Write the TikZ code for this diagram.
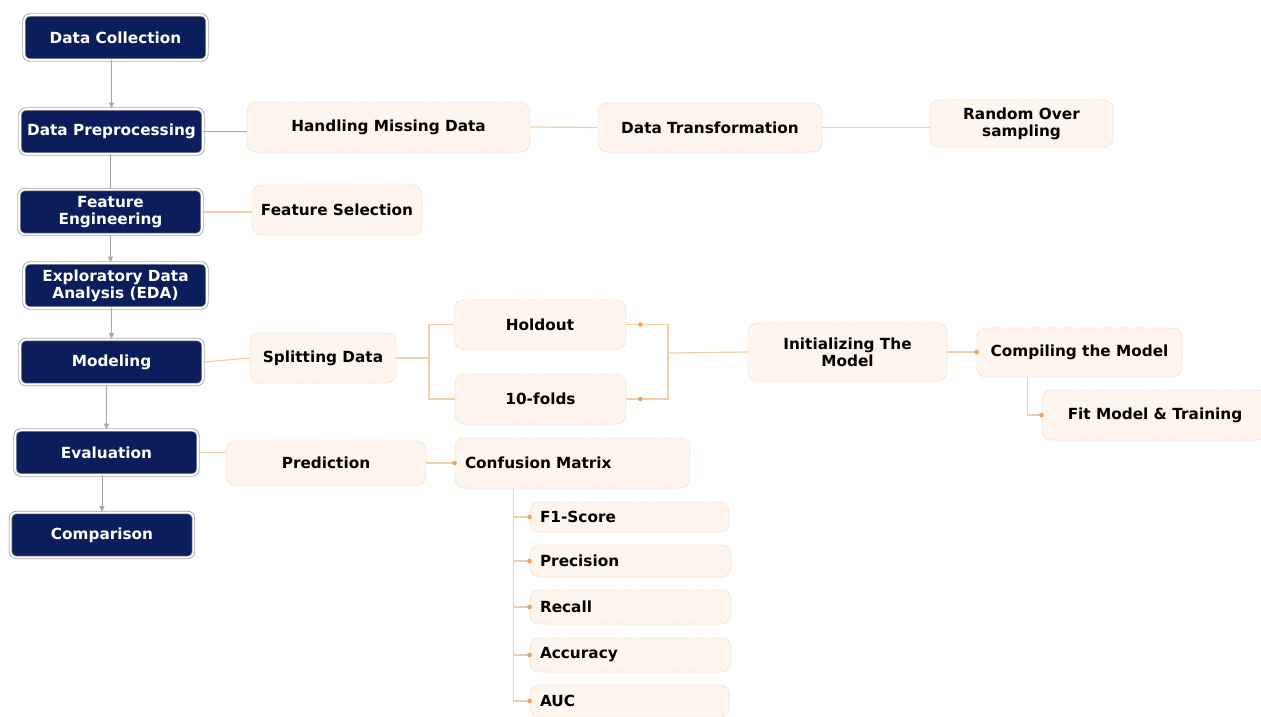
\documentclass[tikz,border=0pt]{standalone}
\usepackage{fontspec}
\setmainfont{DejaVu Sans}
\usetikzlibrary{arrows.meta,calc}
\definecolor{navy}{HTML}{0B1E5B}
\definecolor{boxfill}{HTML}{FEF6EE}
\definecolor{boxline}{HTML}{F2D2B0}
\definecolor{linkc}{HTML}{F5CDA6}
\definecolor{dotc}{HTML}{F0A05A}
\definecolor{grayline}{HTML}{A8A8A8}
\begin{document}
\begin{tikzpicture}[x=1pt,y=-1pt,
  dbox/.style={fill=navy, draw=grayline, double=white, double distance=1.6pt, line width=0.9pt,
    rounded corners=6pt, minimum width=183pt, minimum height=45pt, inner sep=1pt,
    text=white, align=center, font=\fontsize{15.3}{17}\selectfont\bfseries},
  lbox/.style={fill=boxfill, draw=boxline, densely dotted, line width=0.8pt, rounded corners=9pt,
    inner sep=2pt, align=center, text=black, font=\fontsize{15.3}{17}\selectfont\bfseries},
  lboxl/.style={lbox, inner xsep=10pt, align=left},
  glink/.style={draw=grayline, line width=1pt},
  garrow/.style={glink, -{Triangle[length=6pt,width=5pt]}},
  olink/.style={draw=linkc, line width=1.2pt}
]
\useasboundingbox[fill=white] (0,0) rectangle (1261,716);

% main column
\node[dbox] (dc)  at (115.5,37.5) {Data Collection};
\node[dbox] (dp)  at (111.5,131.5) {Data Preprocessing};
\node[dbox] (fe)  at (110.5,212) {Feature\\Engineering};
\node[dbox] (eda) at (115.5,285.5) {Exploratory Data\\Analysis (EDA)};
\node[dbox] (mod) at (111.5,362) {Modeling};
\node[dbox] (ev)  at (106.5,452.5) {Evaluation};
\node[dbox] (cmp) at (102,535) {Comparison};

% light boxes
\node[lbox, minimum width=283pt, minimum height=50pt] (hmd) at (388.5,127) {Handling Missing Data};
\node[lbox, minimum width=224pt, minimum height=49pt] (dt) at (710,127.5) {Data Transformation};
\node[lbox, minimum width=183pt, minimum height=47pt] (ros) at (1021.5,123.5) {Random Over\\sampling};
\node[lbox, minimum width=170pt, minimum height=50pt] (fs) at (337,210) {Feature Selection};
\node[lbox, minimum width=146pt, minimum height=50pt] (split) at (323,358) {Splitting Data};
\node[lbox, minimum width=172pt, minimum height=49pt] (hold) at (540,324.5) {Holdout};
\node[lbox, minimum width=171pt, minimum height=50pt] (tenf) at (540.5,399) {10-folds};
\node[lbox, minimum width=199pt, minimum height=58pt] (init) at (847.5,352) {Initializing The\\Model};
\node[lbox, minimum width=205pt, minimum height=49pt] (comp) at (1079.5,352.5) {Compiling the Model};
\node[lbox, minimum width=226pt, minimum height=50pt] (fit) at (1155,415) {Fit Model \& Training};
\node[lbox, minimum width=200pt, minimum height=44pt] (pred) at (326,463) {Prediction};
\node[lboxl, text width=215pt, minimum height=50pt] (conf) at (572.5,463) {Confusion Matrix};
\node[lboxl, text width=179pt, minimum height=30pt] (f1) at (629.5,517) {F1-Score};
\node[lboxl, text width=181pt, minimum height=32pt] (prec) at (630.5,561) {Precision};
\node[lboxl, text width=181pt, minimum height=34pt] (rec) at (630.5,607) {Recall};
\node[lboxl, text width=181pt, minimum height=34pt] (acc) at (630.5,655) {Accuracy};
\node[lboxl, text width=179pt, minimum height=32pt] (auc) at (629.5,701) {AUC};

% main column connectors
\draw[garrow] (dc.south -| dp.north) -- (dp.north);
\draw[glink] (dp.south -| fe.north) -- (fe.north);
\draw[garrow] (fe.south) -- (fe.south |- eda.north);
\draw[garrow] (eda.south -| mod.north) -- (mod.north);
\draw[garrow] (mod.south -| ev.north) -- (ev.north);
\draw[garrow] (ev.south -| cmp.north) -- (cmp.north);

% side connectors
\draw[glink] (dp.east) -- (dp.east -| hmd.west);
\draw[olink] (hmd.east) -- (dt.west);
\draw[olink] (dt.east) -- (dt.east -| ros.west);
\draw[olink] (fe.east) -- (fe.east -| fs.west);
\draw[olink] (mod.east) -- (split.west);
\draw[olink] (ev.east) -- (ev.east -| pred.west);

% splitting
\coordinate (sj) at (429,358);
\draw[olink] (split.east) -- (sj);
\draw[olink] (sj) |- (hold.west);
\draw[olink] (sj) |- (tenf.west);

% merge to init
\coordinate (hj) at (668,353);
\draw[olink] (hold.east) -| (hj);
\draw[olink] (tenf.east) -| (hj);
\draw[olink] (hj) -- (init.west);
\fill[dotc] ($(hold.east)+(14,0)$) circle (2.3pt);
\fill[dotc] ($(tenf.east)+(14,0)$) circle (2.3pt);

% init -> compiling -> fit
\draw[olink] (init.east) -- (init.east -| comp.west);
\fill[dotc] (init.east -| comp.west) circle (2.3pt);
\draw[olink] ([xshift=51pt]comp.south west) |- (fit.west);
\fill[dotc] (fit.west) circle (2.3pt);

% prediction -> confusion
\draw[olink] (pred.east) -- (conf.west);
\fill[dotc] (conf.west) circle (2.3pt);

% confusion -> metrics
\coordinate (cm) at ([xshift=59pt]conf.south west);
\foreach \m in {f1,prec,rec,acc,auc}{
  \draw[olink] (cm) |- (\m.west);
  \fill[dotc] (\m.west) circle (2.3pt);
}
\end{tikzpicture}
\end{document}
